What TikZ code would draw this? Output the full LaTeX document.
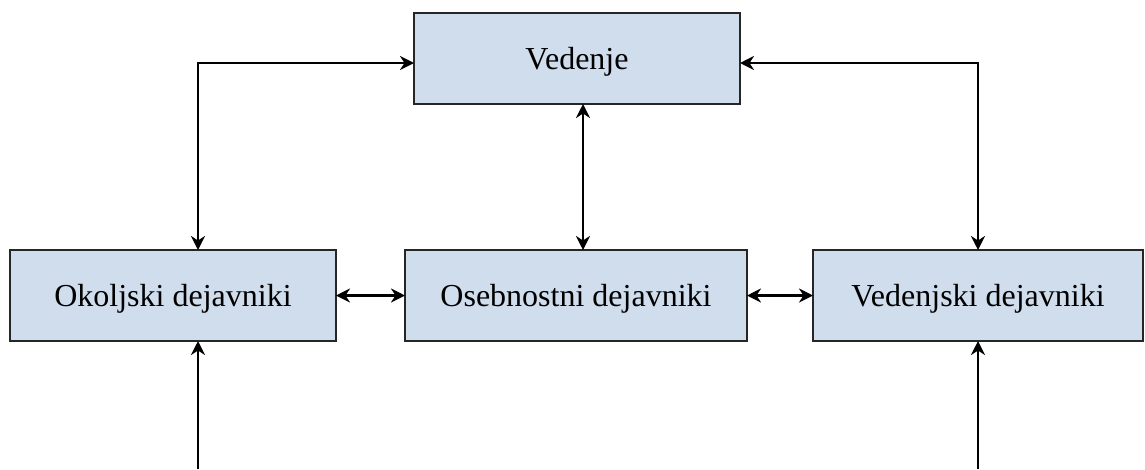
\documentclass[tikz,border=0pt]{standalone}
\usepackage{fontspec}
\setmainfont{Liberation Serif}
\usetikzlibrary{arrows.meta}
\definecolor{boxblue}{HTML}{D0DDEC}
\begin{document}
\begin{tikzpicture}
  [x=1pt,y=-1pt,>={Stealth[length=14pt,width=14pt,inset=4.5pt]},
   every node/.style={rectangle,draw=black!85,line width=2pt,fill=boxblue,
    minimum height=91pt,inner sep=0pt,outer sep=0pt,text height=22pt,text depth=0pt,
    font=\fontsize{32}{38}\selectfont},
   conn/.style={line width=2.5pt}]
  \useasboundingbox (0,0) rectangle (1145,469);
  \node[minimum width=326pt] (ved)  at (577,58.5)  {Vedenje};
  \node[minimum width=326pt] (okol) at (173,295.5) {Okoljski dejavniki};
  \node[minimum width=342pt] (oseb) at (576,295.5) {Osebnostni dejavniki};
  \node[minimum width=330pt] (vdj)  at (978,295.5) {Vedenjski dejavniki};

  \coordinate (lt) at (198,63);
  \coordinate (rt) at (978,63);
  \coordinate (mid) at (583,0);
  \coordinate (lb) at (198,469);
  \coordinate (rb) at (978,469);

  \draw[conn,<->] (okol.north -| lt) -- (lt) -- (ved.west |- lt);
  \draw[conn,<->] (vdj.north) -- (rt) -- (ved.east |- rt);
  \draw[conn,<->] (ved.south -| mid) -- (oseb.north -| mid);
  \foreach \from/\to in {okol/oseb,oseb/vdj}
    \draw[conn,<->] (\from) -- (\to);
  \draw[conn,->] (lb) -- (okol.south -| lb);
  \draw[conn,->] (rb) -- (vdj.south);
\end{tikzpicture}
\end{document}
